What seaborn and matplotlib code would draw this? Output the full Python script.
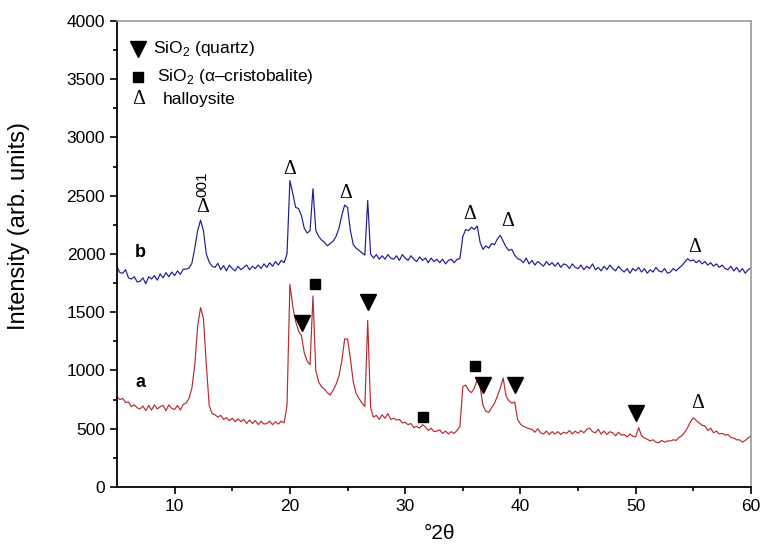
import numpy as np
import pandas as pd
import matplotlib
matplotlib.use("Agg")
import matplotlib.pyplot as plt
import seaborn as sns

# 2-theta grid (0.25 deg step, 5..60)
two_theta = np.arange(5.0, 60.001, 0.25)

# pattern a (red)
int_a = [
    775, 750, 760, 725,  730, 690, 705, 680,  670, 695, 655, 700,
    660, 705, 670, 690,  700, 655, 705, 675,  665, 700, 660, 710,
    720, 760, 850, 1050,  1380, 1540, 1450, 1050,  700, 630, 620, 600,
    615, 580, 595, 570,  590, 560, 585, 560,  580, 545, 575, 545,
    570, 535, 565, 540,  545, 565, 535, 560,  540, 565, 550, 700,
    1740, 1550, 1420, 1340,  1300, 1150, 1080, 1050,  1640, 1000, 900, 860,
    840, 810, 790, 830,  880, 950, 1080, 1270,  1270, 1100, 900, 800,
    760, 720, 690, 1430,  680, 600, 615, 580,  620, 590, 630, 580,
    590, 575, 580, 550,  555, 535, 545, 510,  520, 505, 535, 515,
    485, 505, 475, 480,  490, 460, 480, 455,  475, 460, 485, 520,
    860, 875, 830, 810,  850, 920, 860, 700,  650, 640, 680, 720,
    780, 850, 935, 780,  740, 720, 730, 580,  540, 520, 510, 500,
    495, 470, 500, 465,  455, 480, 450, 475,  455, 475, 450, 470,
    460, 485, 455, 480,  460, 485, 465, 495,  505, 475, 465, 495,
    455, 480, 450, 475,  465, 440, 470, 445,  450, 430, 455, 435,
    430, 510, 440, 420,  410, 395, 405, 385,  380, 400, 385, 395,
    395, 405, 400, 425,  440, 470, 510, 560,  595, 570, 550, 530,
    525, 485, 505, 465,  480, 455, 460, 445,  450, 425, 420, 405,
    405, 385, 400, 420,  440,
]

# pattern b (blue)
int_b = [
    1890, 1840, 1835, 1865,  1795, 1785, 1805, 1760,  1765, 1795, 1745, 1805,
    1785, 1815, 1775, 1830,  1795, 1840, 1805, 1845,  1815, 1855, 1825, 1870,
    1870, 1880, 1920, 2050,  2200, 2290, 2200, 2000,  1930, 1895, 1885, 1920,
    1865, 1900, 1855, 1905,  1875, 1855, 1895, 1865,  1885, 1905, 1865, 1895,
    1875, 1905, 1875, 1915,  1885, 1925, 1895, 1935,  1905, 1945, 1925, 2000,
    2630, 2520, 2400, 2390,  2330, 2220, 2180, 2200,  2560, 2200, 2150, 2120,
    2100, 2070, 2090, 2110,  2150, 2220, 2330, 2420,  2400, 2200, 2080, 2050,
    2030, 2010, 1990, 2460,  2000, 1965, 1995, 1955,  1985, 1955, 1995, 1965,
    1955, 1985, 1945, 1995,  1965, 1945, 1985, 1955,  1935, 1975, 1945, 1965,
    1925, 1965, 1935, 1955,  1925, 1955, 1915, 1945,  1955, 1925, 1955, 1960,
    2150, 2210, 2200, 2230,  2210, 2240, 2100, 2040,  2070, 2050, 2090, 2080,
    2130, 2160, 2110, 2060,  2030, 2040, 1990, 1960,  1950, 1925, 1965, 1915,
    1945, 1905, 1935, 1915,  1895, 1935, 1905, 1925,  1895, 1925, 1885, 1915,
    1905, 1875, 1915, 1885,  1875, 1905, 1865, 1895,  1875, 1915, 1865, 1885,
    1855, 1895, 1865, 1905,  1875, 1855, 1895, 1865,  1845, 1875, 1835, 1875,
    1855, 1885, 1845, 1875,  1835, 1865, 1845, 1885,  1855, 1845, 1875, 1835,
    1845, 1875, 1855, 1880,  1900, 1930, 1960, 1940,  1950, 1925, 1945, 1915,
    1935, 1905, 1925, 1895,  1915, 1885, 1905, 1875,  1865, 1895, 1855, 1885,
    1845, 1875, 1835, 1865,  1880,
]

# phase markers (position, height)
quartz_x = [21.05, 26.8, 36.75, 39.5, 50.06]
quartz_y = [1408, 1588, 876, 876, 635]
cristo_x = [22.2, 31.55, 36.05]
cristo_y = [1742, 601, 1039]
halloy_x = [12.4, 20.0, 24.8, 35.6, 38.9, 55.1, 55.4]
halloy_y = [2403, 2721, 2523, 2335, 2275, 2060, 720]

sns.set_style("ticks")
plt.rcParams["font.family"] = ["Liberation Sans", "DejaVu Sans"]
plt.rcParams["mathtext.fontset"] = "custom"
plt.rcParams["mathtext.rm"] = "Liberation Sans"
plt.rcParams["text.color"] = "black"
plt.rcParams["axes.labelcolor"] = "black"
plt.rcParams["xtick.color"] = "black"
plt.rcParams["ytick.color"] = "black"

df = pd.DataFrame({"2theta": np.concatenate([two_theta, two_theta]),
                   "I": int_a + int_b,
                   "sample": ["a"] * len(int_a) + ["b"] * len(int_b)})

fig = plt.figure(figsize=(7.61, 5.44), dpi=100)
ax = fig.add_axes([0.1537, 0.1048, 0.8332, 0.8566])

sns.lineplot(data=df, x="2theta", y="I", hue="sample",
             palette={"a": "#b82a2e", "b": "#1c1c96"},
             linewidth=0.85, legend=False, ax=ax)

ax.plot(quartz_x, quartz_y, "v", color="black", markersize=11, linestyle="none")
ax.plot(cristo_x, cristo_y, "s", color="black", markersize=7.5, linestyle="none")
for hx, hy in zip(halloy_x, halloy_y):
    ax.text(hx, hy, "Δ", family="Liberation Serif", fontsize=14.5,
            ha="center", va="center")
ax.text(12.4, 2600, "001", rotation=90, fontsize=11, ha="center", va="center")

# legend drawn by hand as in the original
ax.plot([6.86], [3760], "v", color="black", markersize=11)
ax.text(8.1, 3760, r"SiO$_2$ (quartz)", fontsize=12.5, va="center")
ax.plot([6.86], [3520], "s", color="black", markersize=7.5)
ax.text(8.5, 3520, r"SiO$_2$ (α–cristobalite)", fontsize=12.5, va="center")
ax.text(6.86, 3322, "Δ", family="Liberation Serif", fontsize=14.5,
        ha="center", va="center")
ax.text(9.0, 3322, "halloysite", fontsize=12.5, va="center")

ax.text(7.0, 2017, "b", fontsize=13, fontweight="bold", ha="center", va="center")
ax.text(7.0, 901, "a", fontsize=13, fontweight="bold", ha="center", va="center")

ax.set_xlim(5, 60)
ax.set_ylim(0, 4000)
ax.set_xticks([10, 20, 30, 40, 50, 60])
ax.set_xticks([15, 25, 35, 45, 55], minor=True)
ax.set_yticks(range(0, 4001, 500))
ax.set_yticks(range(250, 4000, 500), minor=True)
ax.tick_params(which="major", direction="out", length=5, width=1.2, labelsize=12.5)
ax.tick_params(which="minor", direction="out", length=3, width=1.2)
ax.set_xlabel("°2θ", fontsize=15)
ax.set_ylabel("Intensity (arb. units)", fontsize=17)
ax.xaxis.set_label_coords(0.508, -0.08)
ax.yaxis.set_label_coords(-0.137, 0.56)

for s in ["left", "bottom"]:
    ax.spines[s].set_linewidth(1.3)
    ax.spines[s].set_color("black")
for s in ["top", "right"]:
    ax.spines[s].set_visible(True)
    ax.spines[s].set_color("#9a9a9a")
    ax.spines[s].set_linewidth(1.2)

fig.savefig("out.png", dpi=100)
